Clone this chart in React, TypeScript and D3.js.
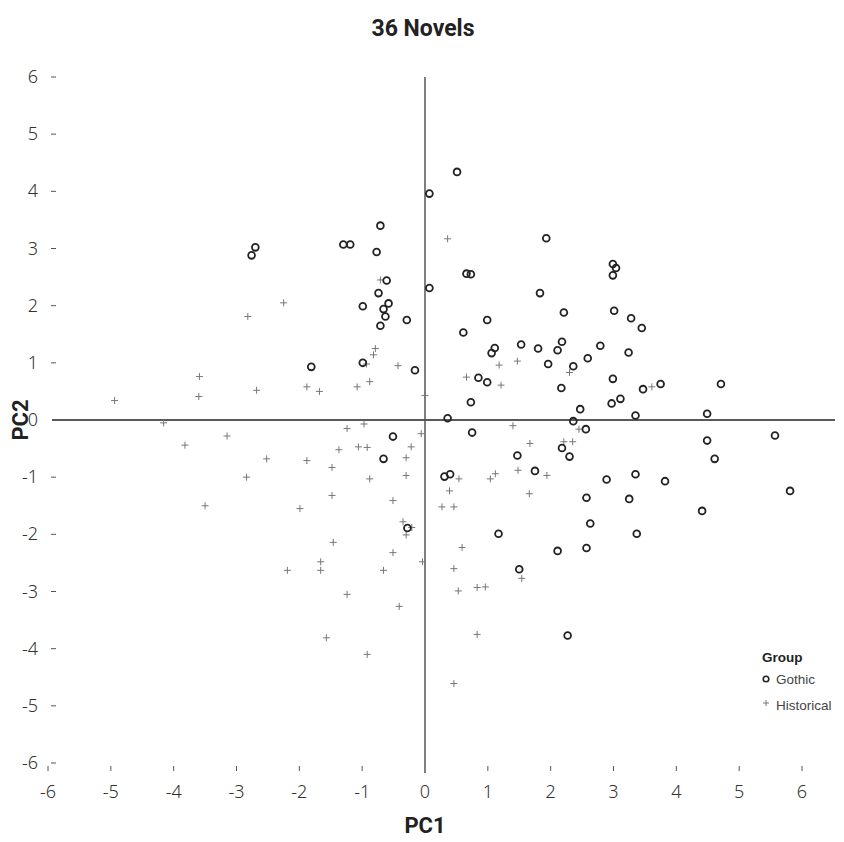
import React from "react";
import * as d3 from "d3";

const gothicPC1 = [-2.76,-2.70,0.51,0.07,-0.71,-1.30,-1.19,-0.77,1.93,-0.61,0.66,0.73,0.07,-0.74,1.83,-0.58,-0.99,-0.66,-0.63,-0.29,-0.71,0.99,2.21,0.61,1.11,1.06,1.53,1.80,2.11,2.18,1.96,-1.81,-0.99,-0.16,0.85,0.99,2.17,0.73,0.36,2.99,3.04,2.99,3.01,3.28,3.45,2.79,3.24,2.59,2.36,2.99,3.47,3.75,4.71,2.97,3.11,2.47,3.35,4.49,2.36,0.75,-0.51,-0.66,1.47,1.75,2.18,2.30,0.31,0.40,-0.28,1.17,2.11,1.50,2.27,2.56,4.49,4.61,5.57,5.81,2.89,3.35,3.82,2.57,3.25,4.41,2.63,3.37,2.57];
const gothicPC2 = [2.88,3.02,4.34,3.96,3.40,3.07,3.07,2.94,3.18,2.44,2.56,2.55,2.31,2.22,2.22,2.04,1.99,1.94,1.81,1.75,1.65,1.75,1.88,1.53,1.26,1.17,1.32,1.25,1.22,1.37,0.98,0.93,1.00,0.87,0.74,0.66,0.56,0.31,0.03,2.73,2.66,2.53,1.91,1.78,1.61,1.30,1.18,1.08,0.94,0.72,0.54,0.63,0.63,0.29,0.37,0.19,0.08,0.11,-0.02,-0.22,-0.29,-0.68,-0.62,-0.89,-0.49,-0.64,-0.99,-0.95,-1.89,-1.99,-2.29,-2.61,-3.77,-0.16,-0.36,-0.68,-0.27,-1.24,-1.04,-0.95,-1.07,-1.36,-1.38,-1.59,-1.81,-1.99,-2.24];

const histPC1 = [-4.94,-4.16,-3.59,-3.60,-2.82,-2.68,-2.25,-1.88,0.36,-0.71,-0.79,-0.82,-0.93,-0.43,-0.88,-1.08,-1.68,0.0,0.66,1.18,1.47,1.21,-0.97,1.40,2.30,3.61,-3.82,-3.15,-2.52,-1.88,-2.84,-3.50,-1.99,-2.19,-1.24,-0.06,-1.37,-1.06,-0.92,-0.22,-1.48,-0.30,-0.88,-0.30,-1.48,-0.51,-0.35,-0.21,-0.30,-1.46,-0.51,-1.66,-1.66,-0.66,-0.04,-1.24,-0.41,-1.57,-0.92,0.46,1.67,2.21,0.54,1.12,1.04,1.48,1.94,0.39,1.66,0.27,0.46,0.59,0.46,0.53,0.83,0.96,1.54,0.83,2.45,2.35];
const histPC2 = [0.34,-0.05,0.76,0.41,1.81,0.52,2.05,0.58,3.17,2.45,1.25,1.14,0.98,0.95,0.67,0.58,0.50,0.43,0.75,0.96,1.03,0.61,-0.07,-0.10,0.83,0.58,-0.44,-0.28,-0.68,-0.71,-1.00,-1.50,-1.55,-2.63,-0.15,-0.24,-0.52,-0.47,-0.48,-0.47,-0.83,-0.66,-1.03,-0.97,-1.32,-1.41,-1.78,-1.88,-2.01,-2.14,-2.32,-2.48,-2.63,-2.63,-2.48,-3.05,-3.26,-3.81,-4.10,-4.61,-0.41,-0.38,-1.03,-0.94,-1.03,-0.88,-0.97,-1.24,-1.29,-1.52,-1.52,-2.23,-2.60,-2.99,-2.93,-2.92,-2.77,-3.75,-0.16,-0.38];

const xTicks = [-6,-5,-4,-3,-2,-1,0,1,2,3,4,5,6];
const yTicks = [6,5,4,3,2,1,0,-1,-2,-3,-4,-5,-6];
const groups = ["Gothic", "Historical"];

export default function App() {
  const W = 844, H = 842;
  const x = d3.scaleLinear().domain([-6, 6]).range([48, 802]);
  const y = d3.scaleLinear().domain([-6, 6]).range([763, 77]);
  const font = "'Noto Sans', 'Open Sans', sans-serif";
  const titleFont = "Roboto, 'Noto Sans', sans-serif";
  const gothic = gothicPC1.map((v, i) => [v, gothicPC2[i]]);
  const hist = histPC1.map((v, i) => [v, histPC2[i]]);
  return (
    <svg width={W} height={H} style={{ position: "absolute", left: 0, top: 0, background: "#fff" }}>
      <text x={423} y={36} textAnchor="middle" fontFamily={titleFont} fontWeight={700} fontSize={23} fill="#222">36 Novels</text>
      {yTicks.map((t) => (
        <g key={"y" + t}>
          <text x={38} y={y(t) + 6} textAnchor="end" fontFamily={font} fontWeight={300} fontSize={18} fill="#333">{t}</text>
          {t !== 0 && <line x1={51} x2={56} y1={y(t)} y2={y(t)} stroke="#555" strokeWidth={1} />}
        </g>
      ))}
      {xTicks.map((t) => (
        <g key={"x" + t}>
          <text x={x(t)} y={798} textAnchor="middle" fontFamily={font} fontWeight={300} fontSize={18} fill="#333">{t}</text>
          {t !== 0 && <line x1={x(t)} x2={x(t)} y1={766} y2={771} stroke="#555" strokeWidth={1} />}
        </g>
      ))}
      <line x1={52} x2={835} y1={y(0)} y2={y(0)} stroke="#222" strokeWidth={1.3} />
      <line x1={x(0)} x2={x(0)} y1={77} y2={773} stroke="#555" strokeWidth={1.5} />
      {hist.map(([a, b], i) => (
        <path key={"h" + i} d={`M${x(a) - 3.5},${y(b)}h7M${x(a)},${y(b) - 3.5}v7`} stroke="#777" strokeWidth={1} />
      ))}
      {gothic.map(([a, b], i) => (
        <circle key={"g" + i} cx={x(a)} cy={y(b)} r={3.4} fill="none" stroke="#222" strokeWidth={1.8} />
      ))}
      <text x={425} y={833} textAnchor="middle" fontFamily={titleFont} fontWeight={700} fontSize={22} fill="#222">PC1</text>
      <text transform={`translate(28,${y(0)}) rotate(-90)`} textAnchor="middle" fontFamily={titleFont} fontWeight={700} fontSize={22} fill="#222">PC2</text>
      <text x={762} y={662} fontFamily="'Liberation Sans', Arial, sans-serif" fontWeight={700} fontSize={13.5} fill="#222">Group</text>
      <circle cx={766} cy={679} r={2.8} fill="none" stroke="#222" strokeWidth={1.6} />
      <text x={776} y={684} fontFamily="'Liberation Sans', Arial, sans-serif" fontSize={13.5} fill="#444">{groups[0]}</text>
      <path d="M763,703h6M766,700v6" stroke="#777" strokeWidth={1} />
      <text x={776} y={710} fontFamily="'Liberation Sans', Arial, sans-serif" fontSize={13.5} fill="#444">{groups[1]}</text>
    </svg>
  );
}
